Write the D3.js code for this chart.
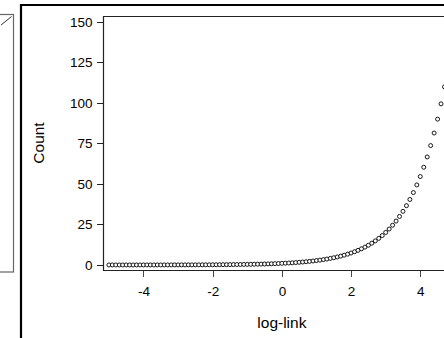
<!DOCTYPE html>
<html>
<head>
<meta charset="utf-8">
<script src="https://cdn.jsdelivr.net/npm/d3@7"></script>
<style>
  body { margin: 0; background: #fff; }
  svg { display: block; font-family: "Liberation Sans", Arial, sans-serif; }
</style>
</head>
<body>
<svg width="444" height="338"></svg>
<script>
// linear predictor on the log-link scale
var linkVals = [
  -5.0, -4.9, -4.8, -4.7, -4.6, -4.5, -4.4, -4.3, -4.2, -4.1,
  -4.0, -3.9, -3.8, -3.7, -3.6, -3.5, -3.4, -3.3, -3.2, -3.1,
  -3.0, -2.9, -2.8, -2.7, -2.6, -2.5, -2.4, -2.3, -2.2, -2.1,
  -2.0, -1.9, -1.8, -1.7, -1.6, -1.5, -1.4, -1.3, -1.2, -1.1,
  -1.0, -0.9, -0.8, -0.7, -0.6, -0.5, -0.4, -0.3, -0.2, -0.1,
   0.0,  0.1,  0.2,  0.3,  0.4,  0.5,  0.6,  0.7,  0.8,  0.9,
   1.0,  1.1,  1.2,  1.3,  1.4,  1.5,  1.6,  1.7,  1.8,  1.9,
   2.0,  2.1,  2.2,  2.3,  2.4,  2.5,  2.6,  2.7,  2.8,  2.9,
   3.0,  3.1,  3.2,  3.3,  3.4,  3.5,  3.6,  3.7,  3.8,  3.9,
   4.0,  4.1,  4.2,  4.3,  4.4,  4.5,  4.6,  4.7,  4.8
];
// count
var countVals = [
  0.01, 0.01, 0.01, 0.01, 0.01, 0.01, 0.01, 0.01, 0.02, 0.02,
  0.02, 0.02, 0.02, 0.02, 0.03, 0.03, 0.03, 0.04, 0.04, 0.05,
  0.05, 0.06, 0.06, 0.07, 0.07, 0.08, 0.09, 0.10, 0.11, 0.12,
  0.14, 0.15, 0.17, 0.18, 0.20, 0.22, 0.25, 0.27, 0.30, 0.33,
  0.37, 0.41, 0.45, 0.50, 0.55, 0.61, 0.67, 0.74, 0.82, 0.90,
  1.00, 1.11, 1.22, 1.35, 1.49, 1.65, 1.82, 2.01, 2.23, 2.46,
  2.72, 3.00, 3.32, 3.67, 4.06, 4.48, 4.95, 5.47, 6.05, 6.69,
  7.39, 8.17, 9.03, 9.97, 11.02, 12.18, 13.46, 14.88, 16.44, 18.17,
  20.09, 22.20, 24.53, 27.11, 29.96, 33.12, 36.60, 40.45, 44.70, 49.40,
  54.60, 60.34, 66.69, 73.70, 81.45, 90.02, 99.48, 109.95, 121.51
];
var yTicks = [0, 25, 50, 75, 100, 125, 150];
var xTicks = [-4, -2, 0, 2, 4];

var svg = d3.select("svg");

var plot = {left: 103, top: 16, bottom: 270};

var x = d3.scaleLinear().domain([-5.17, 5.0]).range([plot.left, plot.left + 10.17 * 34.6]);
var y = d3.scaleLinear().domain([-3.1, 153.7]).range([plot.bottom, plot.top]);

// neighbouring panel on the left (cut off)
svg.append("rect")
    .attr("x", -10).attr("y", 14.5)
    .attr("width", 23.5).attr("height", 257.5)
    .attr("fill", "none").attr("stroke", "#666").attr("stroke-width", 1.2);
svg.append("line")
    .attr("x1", 1).attr("y1", 25).attr("x2", 11.5).attr("y2", 16.5)
    .attr("stroke", "#333").attr("stroke-width", 1);

// outer panel frame
svg.append("path")
    .attr("d", "M21,338V5H444")
    .attr("fill", "none").attr("stroke", "#000").attr("stroke-width", 2.2);

// plot frame
svg.append("path")
    .attr("d", "M444," + (plot.top + 0.5) + "H" + (plot.left + 0.5) + "V" + (plot.bottom + 0.5) + "H444")
    .attr("fill", "none").attr("stroke", "#222").attr("stroke-width", 1.2);

var gy = svg.append("g")
    .attr("transform", "translate(" + (plot.left - 0.5) + ",0)")
    .call(d3.axisLeft(y).tickValues(yTicks).tickSize(6).tickPadding(4).tickFormat(function(d) { return String(d); }));
gy.select(".domain").remove();
gy.selectAll("line").attr("stroke", "#222").attr("shape-rendering", "crispEdges");
gy.selectAll("text").style("font-size", "13.5px").attr("fill", "#000");

var gx = svg.append("g")
    .attr("transform", "translate(0," + (plot.bottom + 1) + ")")
    .call(d3.axisBottom(x).tickValues(xTicks).tickSize(6).tickPadding(9).tickFormat(function(d) { return String(d); }));
gx.select(".domain").remove();
gx.selectAll("line").attr("stroke", "#444").attr("shape-rendering", "crispEdges");
gx.selectAll("text").style("font-size", "13.5px").attr("fill", "#000");

// axis titles
svg.append("text")
    .attr("x", x(0)).attr("y", 328)
    .attr("text-anchor", "middle")
    .style("font-size", "15.5px")
    .text("log-link");

svg.append("text")
    .attr("transform", "translate(44,143) rotate(-90)")
    .attr("text-anchor", "middle")
    .style("font-size", "15.5px")
    .text("Count");

// points
var pts = linkVals.map(function(v, i) { return {eta: v, count: countVals[i]}; });

svg.append("g")
  .selectAll("circle")
  .data(pts)
  .enter().append("circle")
    .attr("cx", function(d) { return x(d.eta); })
    .attr("cy", function(d) { return y(d.count); })
    .attr("r", 2)
    .attr("fill", "#fff")
    .attr("stroke", "#000")
    .attr("stroke-width", 0.9);
</script>
</body>
</html>
